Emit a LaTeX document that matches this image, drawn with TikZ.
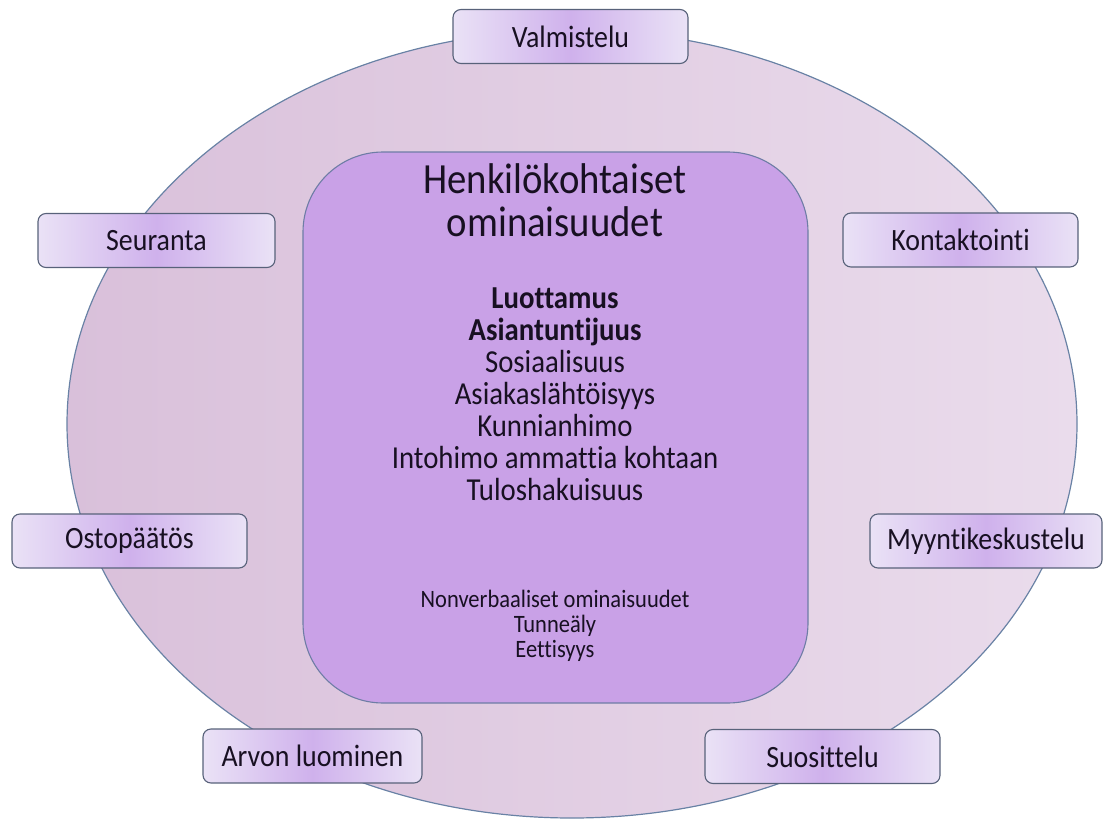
\documentclass[tikz,border=0pt]{standalone}
\usepackage{fontspec}
\setmainfont{Carlito}[FakeStretch=0.9,Ligatures=NoCommon]
\usetikzlibrary{shapes.geometric,positioning}

\definecolor{ringleft}{RGB}{217,192,218}
\definecolor{ringright}{RGB}{234,220,236}
\definecolor{ringline}{RGB}{105,130,165}
\definecolor{corefill}{RGB}{201,161,231}
\definecolor{coreline}{RGB}{110,125,165}
\definecolor{stageedge}{RGB}{234,226,246}
\definecolor{stagemid}{RGB}{207,177,236}
\definecolor{stageline}{RGB}{88,98,122}
\definecolor{txt}{RGB}{24,16,34}

\begin{document}
\begin{tikzpicture}[x=1pt,y=-1pt,text=txt,
    stage/.style={draw=stageline,line width=1.1pt,rounded corners=8pt,
      left color=stageedge,right color=stageedge,middle color=stagemid,
      minimum width=235pt,minimum height=54pt,inner sep=0pt,
      font=\fontsize{31}{34}\selectfont},
    ring/.style={ellipse,draw=ringline,line width=1.2pt,
      left color=ringleft,right color=ringright,
      minimum width=1010pt,minimum height=788pt,inner sep=0pt},
    core/.style={draw=coreline,line width=1.1pt,fill=corefill,
      rounded corners=80pt,minimum width=505pt,minimum height=551pt},
    title/.style={align=center,font=\fontsize{43}{43}\selectfont},
    traits/.style={align=center,font=\fontsize{32}{32}\selectfont},
    minor/.style={align=center,font=\fontsize{25}{25}\selectfont}]
  \useasboundingbox (0,0) rectangle (1104,819);

  % background ring and centre panel
  \node[ring] (ring) at (572,424) {};
  \node[core] (core) at (555.5,427.5) {};

  % centre texts
  \node[title] (head) at (555,200) {Henkilökohtaiset\\ominaisuudet};
  \node[traits] (list) at (555,394) {\textbf{Luottamus}\\\textbf{Asiantuntijuus}\\
    Sosiaalisuus\\Asiakaslähtöisyys\\Kunnianhimo\\Intohimo ammattia kohtaan\\Tuloshakuisuus};
  \node[minor] (extra) at (555,626) {Nonverbaaliset ominaisuudet\\Tunneäly\\Eettisyys};

  % stages round the ring
  \node[stage] (valm) at (570.5,36.5) {Valmistelu};
  \node[stage,minimum width=237pt] (seur) at (156.5,240.5) {Seuranta};
  \node[stage] (kont) at (960.5,240) {Kontaktointi};
  \node[stage] (osto) at (129.5,541) {Ostopäätös};
  \node[stage,minimum width=232pt] (myyn) at (986,541) {Myyntikeskustelu};
  \node[stage,minimum width=219pt] (arvo) at (312.5,756) {Arvon luominen};
  \node[stage] (suos) at (822.5,756.5) {Suosittelu};
\end{tikzpicture}
\end{document}
